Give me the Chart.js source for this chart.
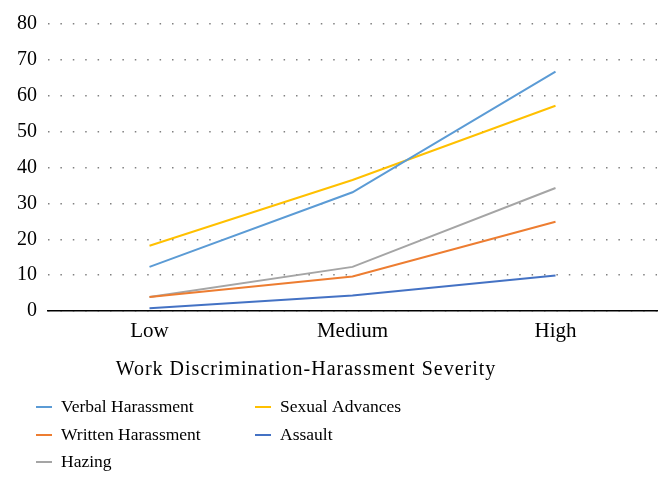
<!DOCTYPE html>
<html>
<head>
<meta charset="utf-8">
<script src="https://cdn.jsdelivr.net/npm/chart.js@4"></script>
<style>
html,body{margin:0;padding:0;background:#fff;}
canvas{display:block;}
</style>
</head>
<body>
<canvas id="c" width="672" height="488" style="width:672px;height:488px"></canvas>
<script>
const categories = ["Low", "Medium", "High"];
const verbalHarassment = [12.3, 33.1, 66.7];
const writtenHarassment = [3.9, 9.6, 24.9];
const hazing = [3.9, 12.3, 34.3];
const sexualAdvances = [18.2, 36.5, 57.2];
const assault = [0.8, 4.3, 9.9];
const yTicks = [0, 10, 20, 30, 40, 50, 60, 70, 80];
const xTitle = "Work Discrimination-Harassment Severity";

const SERIF = "'Liberation Serif', 'Times New Roman', serif";

const datasets = [
  {label: "Verbal Harassment", data: verbalHarassment, borderColor: "#5B9BD5"},
  {label: "Written Harassment", data: writtenHarassment, borderColor: "#ED7D31"},
  {label: "Hazing", data: hazing, borderColor: "#A5A5A5"},
  {label: "Sexual Advances", data: sexualAdvances, borderColor: "#FFC000"},
  {label: "Assault", data: assault, borderColor: "#4472C4"}
].map(d => Object.assign(d, {borderWidth: 2, pointRadius: 0, tension: 0, fill: false}));

const legendPlugin = {
  id: "customLegend",
  afterDraw(chart) {
    const ctx = chart.ctx;
    ctx.save();
    // axis title
    ctx.fillStyle = "#000";
    ctx.font = "20px " + SERIF;
    ctx.letterSpacing = "1px";
    ctx.textAlign = "center";
    ctx.textBaseline = "middle";
    ctx.fillText(xTitle, 306, 370);
    ctx.letterSpacing = "0px";
    // legend
    const cols = [{mx: 36, tx: 61}, {mx: 255, tx: 280}];
    const rows = [407, 435, 462];
    ctx.font = "17.5px " + SERIF;
    ctx.textAlign = "left";
    chart.data.datasets.forEach((ds, i) => {
      const col = cols[Math.floor(i / 3)];
      const y = rows[i % 3];
      ctx.strokeStyle = ds.borderColor;
      ctx.lineWidth = 2;
      ctx.beginPath();
      ctx.moveTo(col.mx, y);
      ctx.lineTo(col.mx + 16, y);
      ctx.stroke();
      ctx.fillStyle = "#000";
      ctx.fillText(ds.label, col.tx, y);
    });
    ctx.restore();
  }
};

new Chart(document.getElementById("c"), {
  type: "line",
  data: {labels: categories, datasets: datasets},
  options: {
    responsive: false,
    animation: false,
    devicePixelRatio: 1,
    layout: {padding: {top: 24, right: 15, bottom: 107, left: 0}},
    plugins: {legend: {display: false}, tooltip: {enabled: false}},
    scales: {
      x: {
        offset: true,
        grid: {drawOnChartArea: false, drawTicks: false},
        border: {display: true, color: "#000", width: 1.5},
        ticks: {color: "#000", font: {family: SERIF, size: 21}, padding: 8},
        afterFit: s => { s.height = 70; }
      },
      y: {
        min: yTicks[0],
        max: yTicks[yTicks.length - 1],
        afterBuildTicks: s => { s.ticks = yTicks.map(v => ({value: v})); },
        grid: {color: "#808080", lineWidth: 1.4, drawTicks: false},
        border: {display: false, dash: [1.5, 10.9]},
        ticks: {color: "#000", font: {family: SERIF, size: 20}, padding: 11},
        afterFit: s => { s.width = 48; }
      }
    }
  },
  plugins: [legendPlugin]
});
</script>
</body>
</html>
